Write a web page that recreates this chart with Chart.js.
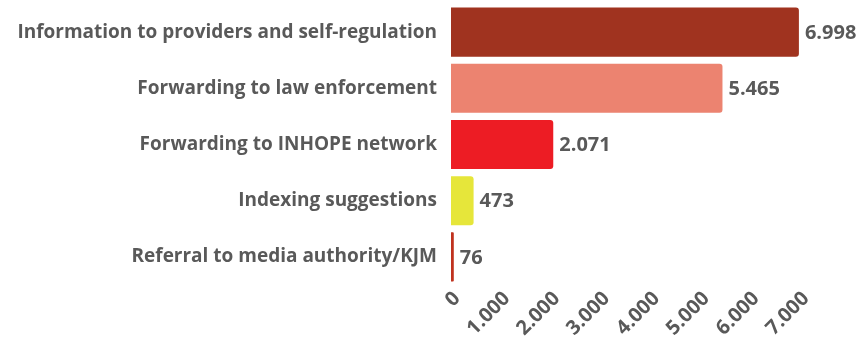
<!DOCTYPE html>
<html>
<head>
<meta charset="utf-8">
<script src="https://cdn.jsdelivr.net/npm/chart.js@4.4.1/dist/chart.umd.min.js"></script>
<style>
  html, body { margin: 0; padding: 0; background: #fff; }
  #wrap { width: 859px; height: 340px; }
</style>
</head>
<body>
<div id="wrap"><canvas id="chart"></canvas></div>
<script>
// Reports by measure taken
const categories = [
  "Information to providers and self-regulation",
  "Forwarding to law enforcement",
  "Forwarding to INHOPE network",
  "Indexing suggestions",
  "Referral to media authority/KJM",
];
const counts = [6998, 5465, 2071, 473, 76];
const barColors = ["#A0331F", "#EC8370", "#ED1C24", "#E6E63A", "#C0321E"];
const xTicks = [0, 1000, 2000, 3000, 4000, 5000, 6000, 7000];

const TEXT = "#595959";
const FONT = "'Open Sans', 'Noto Sans', sans-serif";
const fmt = v => v.toLocaleString("de-DE");

// value labels drawn just right of each bar end
const valueLabels = {
  id: "valueLabels",
  afterDatasetsDraw(chart) {
    const ctx = chart.ctx;
    const meta = chart.getDatasetMeta(0);
    ctx.save();
    ctx.font = "bold 20px " + FONT;
    ctx.fillStyle = TEXT;
    ctx.textAlign = "left";
    ctx.textBaseline = "middle";
    meta.data.forEach((bar, i) => {
      ctx.fillText(fmt(counts[i]), bar.x + 5, bar.y + 1);
    });
    ctx.restore();
  },
};

new Chart(document.getElementById("chart"), {
  type: "bar",
  data: {
    labels: categories,
    datasets: [{
      data: counts,
      backgroundColor: barColors,
      borderColor: "rgba(255,255,255,0.6)",
      borderWidth: 1,
      borderRadius: 4,
      borderSkipped: "start",
      barPercentage: 0.91,
      categoryPercentage: 1,
    }],
  },
  options: {
    indexAxis: "y",
    responsive: true,
    maintainAspectRatio: false,
    animation: false,
    layout: { padding: { top: 4, right: 59, bottom: 0, left: 0 } },
    plugins: {
      legend: { display: false },
      tooltip: { enabled: false },
    },
    scales: {
      x: {
        min: 0,
        max: 7000,
        afterBuildTicks: axis => { axis.ticks = xTicks.map(v => ({ value: v })); },
        afterFit: axis => { axis.height = 55; },
        grid: { display: false, drawTicks: false },
        border: { display: false },
        ticks: {
          color: TEXT,
          font: { family: FONT, size: 20, weight: "bold" },
          minRotation: 45,
          maxRotation: 45,
          padding: 2,
          labelOffset: 6,
          callback: v => fmt(v),
        },
      },
      y: {
        afterFit: axis => {
          axis.width = 451;
          axis.paddingTop = 0;
          axis.paddingBottom = 0;
        },
        grid: { display: false, drawTicks: false },
        border: { display: false },
        ticks: {
          color: TEXT,
          font: { family: FONT, size: 19, weight: "bold" },
          padding: 14,
        },
      },
    },
  },
  plugins: [valueLabels],
});
</script>
</body>
</html>
